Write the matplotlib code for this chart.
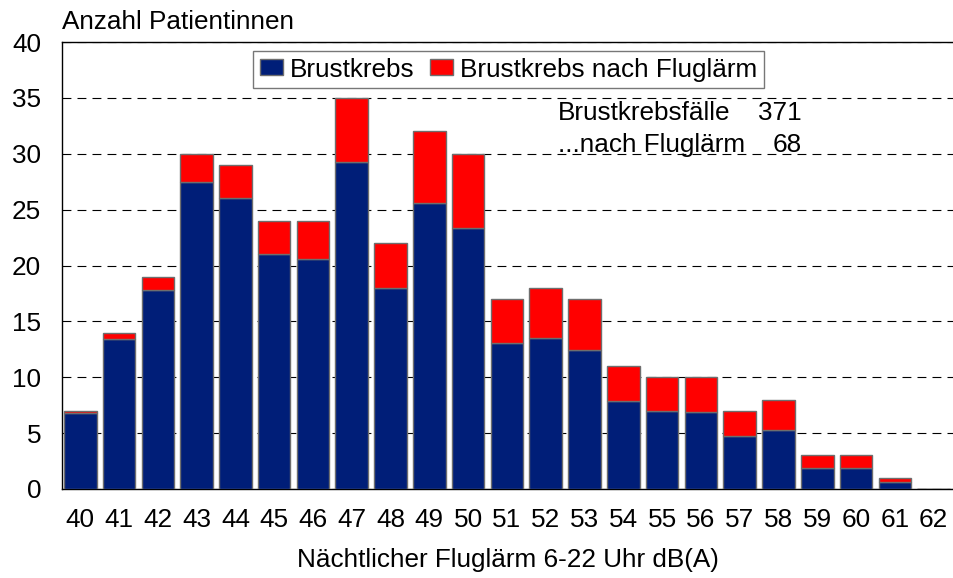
import matplotlib.pyplot as plt
import numpy as np

plt.rcParams['font.family'] = ['Liberation Sans', 'DejaVu Sans']

# Lärmklassen (dB(A)) und Fallzahlen
klassen = ['40', '41', '42', '43', '44', '45', '46', '47', '48', '49', '50',
           '51', '52', '53', '54', '55', '56', '57', '58', '59', '60', '61', '62']
brustkrebs = [6.8, 13.4, 17.8, 27.5, 26.0, 21.0, 20.6, 29.3, 18.0, 25.6, 23.4,
              13.05, 13.5, 12.45, 7.85, 7.0, 6.9, 4.75, 5.25, 1.9, 1.9, 0.65, 0]
nach_fluglaerm = [0.2, 0.6, 1.2, 2.5, 3.0, 3.0, 3.4, 5.7, 4.0, 6.4, 6.6,
                  3.95, 4.5, 4.55, 3.15, 3.0, 3.1, 2.25, 2.75, 1.1, 1.1, 0.35, 0]
yticks = [0, 5, 10, 15, 20, 25, 30, 35, 40]

blau = '#001e78'
rot = '#ff0000'
fs = 18.8

fig = plt.figure(figsize=(9.54, 5.78), dpi=100)
ax = fig.add_axes([62/954, 1 - 489/578, 891/954, 447/578])

x = np.arange(len(klassen))
ax.bar(x, brustkrebs, width=0.84, color=blau, edgecolor='#6e6e6e',
       linewidth=1, zorder=3, label='Brustkrebs')
ax.bar(x, nach_fluglaerm, width=0.84, bottom=brustkrebs, color=rot,
       edgecolor='#6e6e6e', linewidth=1, zorder=3,
       label='Brustkrebs nach Fluglärm')

ax.set_xlim(-0.47, 22.5)
ax.set_ylim(0, 40)
ax.set_yticks(yticks)
ax.set_xticks(x)
ax.set_xticklabels(klassen)
ax.tick_params(axis='both', length=0, labelsize=fs)
ax.tick_params(axis='y', pad=15)
ax.tick_params(axis='x', pad=14)

ax.yaxis.grid(True, color='black', linestyle=(0, (8, 5.5)), linewidth=0.8, zorder=0)
ax.spines['right'].set_visible(False)
for s in ['left', 'bottom', 'top']:
    ax.spines[s].set_color('black')
    ax.spines[s].set_linewidth(1)

ax.set_xlabel('Nächtlicher Fluglärm 6-22 Uhr dB(A)', fontsize=fs, labelpad=11)
fig.text(62/954, 1 - 29/578, 'Anzahl Patientinnen', fontsize=fs, ha='left', va='baseline')

leg = ax.legend(loc='upper left', bbox_to_anchor=(253/954, 1 - 51/578),
                bbox_transform=fig.transFigure, ncol=2, fontsize=fs,
                frameon=True, fancybox=False, edgecolor='#555555',
                handlelength=0.9, handleheight=0.55, handletextpad=0.25,
                columnspacing=0.6, borderpad=0.25, borderaxespad=0)
leg.get_frame().set_linewidth(1)

fig.text(558/954, 1 - 120/578, 'Brustkrebsfälle', fontsize=fs, ha='left', va='baseline')
fig.text(802/954, 1 - 120/578, '371', fontsize=fs, ha='right', va='baseline')
fig.text(558/954, 1 - 152/578, '...nach Fluglärm', fontsize=fs, ha='left', va='baseline')
fig.text(802/954, 1 - 152/578, '68', fontsize=fs, ha='right', va='baseline')

fig.savefig('out.png', dpi=100)
